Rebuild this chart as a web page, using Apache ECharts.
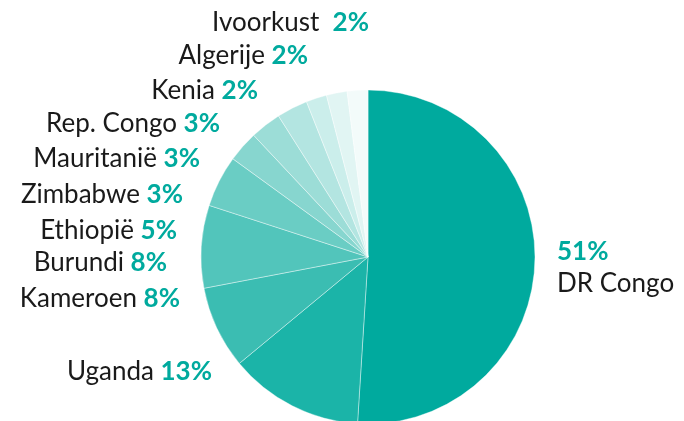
<!DOCTYPE html>
<html><head><meta charset="utf-8">
<script src="https://cdn.jsdelivr.net/npm/echarts@6/dist/echarts.min.js"></script>
<style>html,body{margin:0;padding:0;background:#fff}#c{width:684px;height:421px}</style>
</head><body><div id="c"></div>
<script>
const categories = ['DR Congo','Uganda','Kameroen','Burundi','Ethiopië','Zimbabwe','Mauritanië','Rep. Congo','Kenia','Algerije','Ivoorkust'];
const values = [51,13,8,8,5,3,3,3,2,2,2];
const colors = ['#00aa9e','#1bb4a8','#3bbdb2','#52c5bb','#6acdc4','#87d6cf','#9cddd7','#b3e5e1','#cbeeeb','#e1f5f3','#f3fbfa'];
// label anchor positions (layout only)
const labelPos = [
  [557,268,'left'],[212,372,'right'],[180,299,'right'],[167,263,'right'],[177,231,'right'],
  [183,195,'right'],[200,159,'right'],[220,124,'right'],[258,91,'right'],[308,56,'right'],[369,23,'right']
];
const chart = echarts.init(document.getElementById('c'), null, {renderer:'canvas'});
chart.setOption({
  animation:false,
  series:[{
    type:'pie',
    center:[368,257],
    radius:[0,167],
    startAngle:90,
    clockwise:true,
    data: categories.map((n,i)=>({name:n,value:values[i],itemStyle:{color:colors[i]}})),
    itemStyle:{borderColor:'#ffffff',borderWidth:0.4},
    labelLine:{show:false},
    label:{
      show:true,
      position:'outside',
      overflow:'none',
      fontFamily:'Lato',
      fontSize:26,
      formatter:(p)=> p.dataIndex===0 ? '{v|'+p.value+'%}\n{n|'+p.name+'}'
                     : '{n|'+p.name+(p.dataIndex===10?'  ':' ')+'}{v|'+p.value+'%}',
      rich:{
        n:{fontFamily:'Lato',fontSize:26,color:'#1a1a1a',lineHeight:32},
        v:{fontFamily:'Lato',fontSize:26,fontWeight:'bold',color:'#00aa9e',lineHeight:32}
      }
    },
    labelLayout:(params)=>{
      const p = labelPos[params.dataIndex];
      return {x:p[0], y:p[1], align:p[2], verticalAlign:'middle'};
    }
  }]
});
</script></body></html>
